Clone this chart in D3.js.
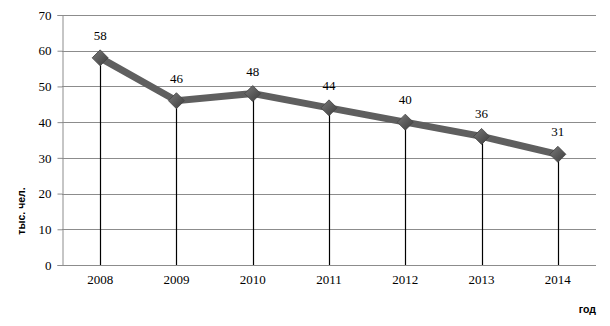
<!DOCTYPE html>
<html>
<head>
<meta charset="utf-8">
<script src="https://cdn.jsdelivr.net/npm/d3@7"></script>
<style>
  body { margin: 0; background: #fff; }
</style>
</head>
<body>
<div id="chart"></div>
<script>
var years = ["2008", "2009", "2010", "2011", "2012", "2013", "2014"];
var values = [58, 46, 48, 44, 40, 36, 31];
var yTicks = [0, 10, 20, 30, 40, 50, 60, 70];

var width = 610, height = 326;
var padLeft = 62, padRight = 596, padTop = 15, padBottom = 265;
var serif = "'Liberation Serif', 'Times New Roman', serif";
var sans = "'Liberation Sans', Arial, sans-serif";

var svg = d3.select("#chart").append("svg")
    .attr("width", width)
    .attr("height", height);

var x = d3.scaleBand().domain(years).range([padLeft, padRight]);
var y = d3.scaleLinear().domain([0, 70]).range([padBottom, padTop]);

// horizontal gridlines
svg.append("g").selectAll("line")
    .data(yTicks)
    .enter().append("line")
    .attr("x1", padLeft).attr("x2", padRight)
    .attr("y1", function(d) { return Math.round(y(d)) + 0.5; })
    .attr("y2", function(d) { return Math.round(y(d)) + 0.5; })
    .attr("stroke", "#8c8c8c")
    .attr("stroke-width", 1);

// y axis
var yAxis = d3.axisLeft(y).tickValues(yTicks).tickSize(5).tickPadding(6);
var gy = svg.append("g")
    .attr("transform", "translate(" + (padLeft + 0.5) + ",0)")
    .call(yAxis);
gy.select(".domain").attr("stroke", "#8c8c8c");
gy.selectAll(".tick line").attr("stroke", "#8c8c8c");
gy.selectAll("text").attr("font-size", 13).attr("fill", "#000")
    .style("font-family", serif);

// x axis labels
var xAxis = d3.axisBottom(x).tickSize(0).tickPadding(10);
var gx = svg.append("g")
    .attr("transform", "translate(0," + padBottom + ")")
    .call(xAxis);
gx.select(".domain").remove();
gx.selectAll("text").attr("font-size", 13).attr("fill", "#000")
    .style("font-family", serif);

// drop lines
svg.append("g").selectAll("line")
    .data(values)
    .enter().append("line")
    .attr("x1", function(d, i) { return Math.round(x(years[i]) + x.bandwidth() / 2) + 0.5; })
    .attr("x2", function(d, i) { return Math.round(x(years[i]) + x.bandwidth() / 2) + 0.5; })
    .attr("y1", function(d) { return y(d); })
    .attr("y2", y(0))
    .attr("stroke", "#000")
    .attr("stroke-width", 1.2);

// main line
var line = d3.line()
    .x(function(d, i) { return x(years[i]) + x.bandwidth() / 2; })
    .y(function(d) { return y(d); });

svg.append("path")
    .datum(values)
    .attr("d", line)
    .attr("fill", "none")
    .attr("stroke", "#5f5f5f")
    .attr("stroke-width", 7);

// diamond markers
var defs = svg.append("defs");
var grad = defs.append("linearGradient").attr("id", "mk")
    .attr("x1", "0").attr("y1", "0").attr("x2", "1").attr("y2", "1");
grad.append("stop").attr("offset", "0").attr("stop-color", "#7a7a7a");
grad.append("stop").attr("offset", "1").attr("stop-color", "#3c3c3c");

svg.append("g").selectAll("path")
    .data(values)
    .enter().append("path")
    .attr("transform", function(d, i) {
        return "translate(" + (x(years[i]) + x.bandwidth() / 2) + "," + y(d) + ")";
    })
    .attr("d", "M0,-8L8,0L0,8L-8,0Z")
    .attr("fill", "url(#mk)")
    .attr("stroke", "#444")
    .attr("stroke-width", 0.8);

// data labels
svg.append("g").selectAll("text")
    .data(values)
    .enter().append("text")
    .attr("x", function(d, i) { return x(years[i]) + x.bandwidth() / 2; })
    .attr("y", function(d) { return y(d) - 18; })
    .attr("text-anchor", "middle")
    .style("font-family", serif)
    .attr("font-size", 13)
    .attr("fill", "#000")
    .text(function(d) { return d; });

// axis titles
svg.append("text")
    .attr("transform", "translate(25,211) rotate(-90)")
    .attr("text-anchor", "middle")
    .style("font-family", sans)
    .attr("font-size", 10.5)
    .attr("font-weight", "bold")
    .text("тыс. чел.");

svg.append("text")
    .attr("x", 596)
    .attr("y", 313)
    .attr("text-anchor", "end")
    .style("font-family", sans)
    .attr("font-size", 10.5)
    .attr("font-weight", "bold")
    .text("год");
</script>
</body>
</html>
